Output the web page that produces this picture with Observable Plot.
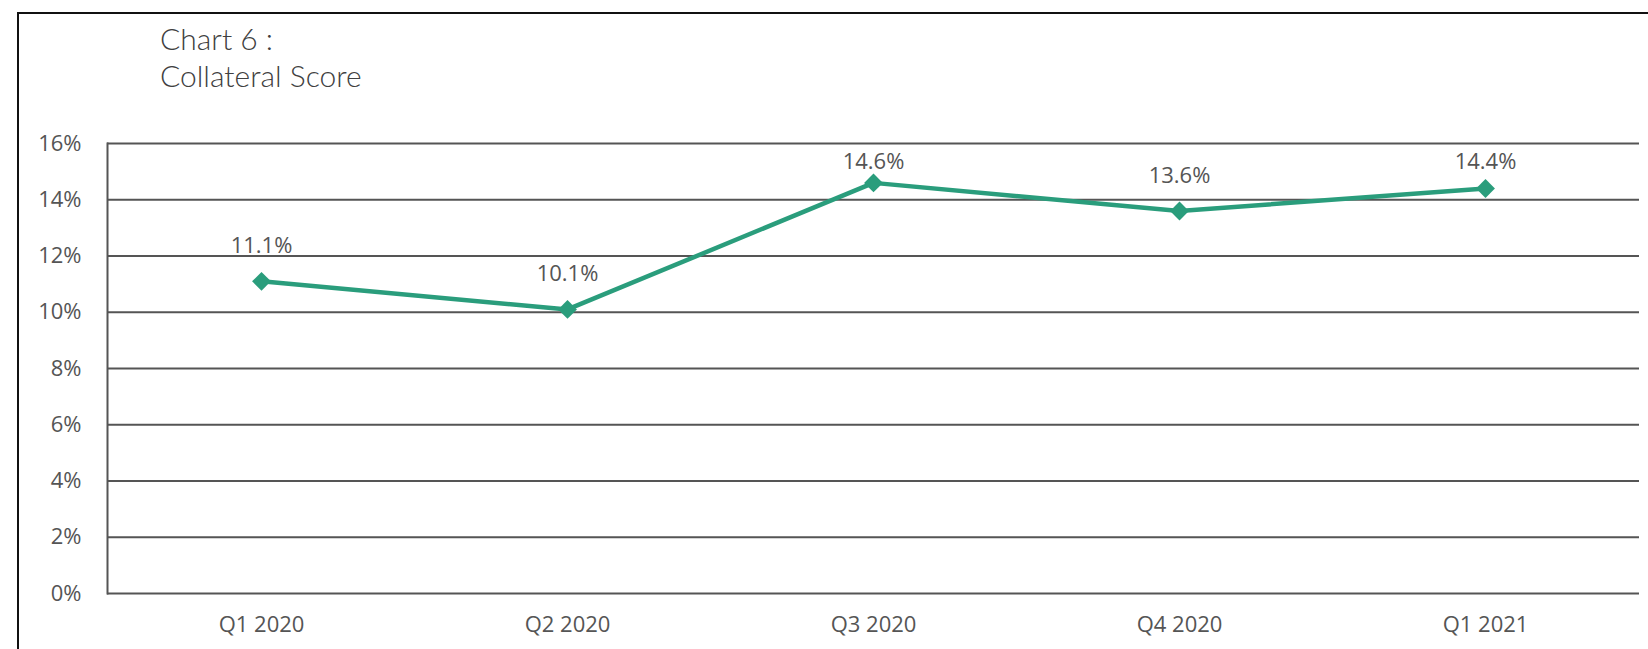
<!DOCTYPE html>
<html>
<head>
<meta charset="utf-8">
<script src="https://cdn.jsdelivr.net/npm/d3@7"></script>
<script src="https://cdn.jsdelivr.net/npm/@observablehq/plot@0.6"></script>
<style>
  html, body { margin: 0; padding: 0; background: #fff; }
  body { width: 1648px; height: 649px; overflow: hidden; position: relative; }
  #frame { position: absolute; left: 17px; top: 12px; width: 1700px; height: 700px;
           border-left: 2px solid #111; border-top: 2px solid #111; box-sizing: border-box; pointer-events: none; }
  #header { position: relative; height: 100px; }
  #title { position: absolute; left: 160px; top: 20px; font-family: Lato, "Open Sans", sans-serif;
           font-weight: 300; font-size: 30px; line-height: 37px; color: #404040; }
  #chart { position: relative; }
</style>
</head>
<body>
<div id="frame"></div>
<div id="header"><div id="title">Chart 6 :<br>Collateral Score</div></div>
<div id="chart"></div>
<script>
const quarters = ["Q1 2020", "Q2 2020", "Q3 2020", "Q4 2020", "Q1 2021"];
const collateralScore = [11.1, 10.1, 14.6, 13.6, 14.4];
const yTicks = [0, 2, 4, 6, 8, 10, 12, 14, 16];

const data = quarters.map((q, i) => ({quarter: q, value: collateralScore[i]}));

const lineColor = "#2a9d7c";
const gridColor = "#555555";
const textColor = "#555555";

// label sits above each point, but is kept inside the plot's top edge (as in the source)
const labelLift = 1.26;
const labelCap = 15.33;

const chart = Plot.plot({
  width: 1648,
  height: 549,
  marginLeft: 107,
  marginRight: 9,
  marginTop: 43,
  marginBottom: 56,
  style: {fontFamily: "'Open Sans', sans-serif", fontSize: "22px", color: textColor, background: "transparent"},
  x: {type: "point", domain: quarters, padding: 0.5, label: null},
  y: {domain: [0, 16], ticks: yTicks, label: null},
  marks: [
    Plot.ruleY(yTicks, {stroke: gridColor, strokeWidth: 2}),
    Plot.frame({anchor: "left", stroke: gridColor, strokeWidth: 2}),
    Plot.axisY(yTicks, {tickSize: 0, tickPadding: 26, tickFormat: d => d + "%", fill: textColor, fontSize: 22}),
    Plot.axisX(quarters, {tickSize: 0, tickPadding: 23, fill: textColor, fontSize: 22}),
    Plot.line(data, {x: "quarter", y: "value", stroke: lineColor, strokeWidth: 4.5}),
    Plot.dot(data, {x: "quarter", y: "value", symbol: "diamond2", r: 8.5, fill: lineColor, stroke: "none"}),
    Plot.text(data, {x: "quarter", y: d => Math.min(d.value + labelLift, labelCap),
      text: d => d.value.toFixed(1) + "%", fill: textColor, fontSize: 22})
  ]
});
document.getElementById("chart").appendChild(chart);
</script>
</body>
</html>
